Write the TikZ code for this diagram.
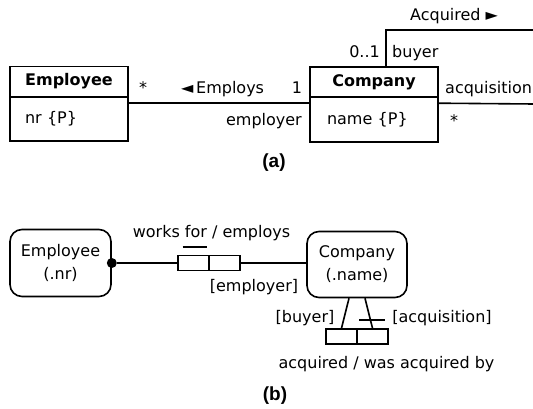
\documentclass[tikz,border=0pt]{standalone}
\usepackage{fontspec}
\setmainfont{DejaVu Sans}
\newfontfamily\capfont{Liberation Sans}
\usetikzlibrary{calc}
\def\lbl{\fontsize{16}{23}\selectfont}
\tikzset{
	umlhead/.style={draw, line width=1.6pt, font=\lbl\bfseries, minimum height=30pt, inner sep=0pt},
	umlattr/.style={draw, line width=1.6pt, font=\lbl, align=left, inner ysep=0pt},
	objtype/.style={draw, line width=1.6pt, rounded corners=12pt, font=\lbl, align=center, minimum width=100pt, minimum height=66pt},
	rolebox/.style={draw, line width=1.6pt, minimum width=31pt, minimum height=15pt, inner sep=0pt},
	dot/.style={circle, fill=black, minimum size=10pt, inner sep=0pt},
	tag/.style={font=\lbl, inner sep=0pt, text height=11.5pt, text depth=0pt},
	star/.style={font=\lbl, inner sep=0pt},
	caption/.style={font=\capfont\fontsize{19}{19}\selectfont\bfseries, inner sep=0pt},
	link/.style={line width=1.6pt},
}

\begin{document}
\begin{tikzpicture}[x=1pt, y=-1pt]
		%%%%% START %%%%%
		\useasboundingbox (0,0) rectangle (533,409);
		
		% (a)
		\node[umlhead, minimum width=118pt] (emphead) at (69,81.5) {Employee};
		\node[umlattr, minimum width=118pt, minimum height=44pt, text width=88pt, inner xsep=15pt] (empattr) at (69,119) {nr \{P\}};
		
		\node[umlhead, minimum width=128pt] (comphead) at (374,82) {Company};
		\node[umlattr, minimum width=128pt, minimum height=45pt, text width=94pt, inner xsep=17pt] (compattr) at (374,119.5) {name \{P\}};
		
		\draw[link] ([yshift=-7pt]empattr.north east) -- ([yshift=-7pt]compattr.north west);
		
		\coordinate (acqtop) at (534,30);
		\coordinate (acqside) at (534,104);
		\draw[link] ([xshift=12pt]comphead.north) |- (acqtop);
		\draw[link] ([yshift=-7pt]compattr.north east) -- (acqside);
		
		\node[star] (empmult) at (143,88) {*};
		\node[tag, anchor=west] (employs) at (181,88) {◄\,Employs};
		\node[tag] (compmult) at (297,88) {1};
		\node[tag, anchor=east] (employer) at (302,120) {employer};
		
		\node[tag, anchor=west] (acquired) at (410,15) {Acquired ►};
		\node[tag, anchor=east] (buyermult) at (380,52) {0..1};
		\node[tag, anchor=west] (buyer) at (392,52) {buyer};
		\node[tag, anchor=west] (acquisition) at (445,88) {acquisition};
		\node[star] (acqmult) at (454,121) {*};
		
		\node[caption] (capa) at (274,163) {(a)};
		
		% (b)
		\node[objtype, minimum width=101pt, minimum height=67pt] (empobj) at (60.5,263) {Employee\\(.nr)};
		\node[objtype] (compobj) at (357,264.5) {Company\\(.name)};
		
		\node[dot] (empdot) at (empobj.east) {};
		\node[rolebox] (worksfor) at (193.5,263) {};
		\node[rolebox] (employsrole) at (224.5,263) {};
		\draw[link] (empdot) -- (worksfor.west);
		\draw[link] (employsrole.east) -- (employsrole.east -| compobj.west);
		\draw[link] ([shift={(-11pt,7.5pt)}]worksfor.north) -- ([shift={(13pt,7.5pt)}]worksfor.north);
		
		\node[rolebox] (buyerrole) at (341.5,336.5) {};
		\node[rolebox] (acqrole) at (372.5,336.5) {};
		\draw[link] ([xshift=-8pt]compobj.south) -- (buyerrole.north);
		\draw[link] ([xshift=8pt]compobj.south) -- (acqrole.north);
		\draw[link] ([shift={(-13.5pt,8pt)}]acqrole.north) -- ([shift={(12.5pt,8pt)}]acqrole.north);
		
		\node[tag] (worksname) at (211.5,232) {works for / employs};
		\node[tag] (employerrole) at (254,286) {[employer]};
		\node[tag] (buyername) at (305,317) {[buyer]};
		\node[tag] (acqname) at (442,317) {[acquisition]};
		\node[tag] (acqreading) at (386.5,363) {acquired / was acquired by};
		
		\node[caption] (capb) at (275,396) {(b)};
		
		%%%%% END %%%%%
	\end{tikzpicture}
\end{document}
